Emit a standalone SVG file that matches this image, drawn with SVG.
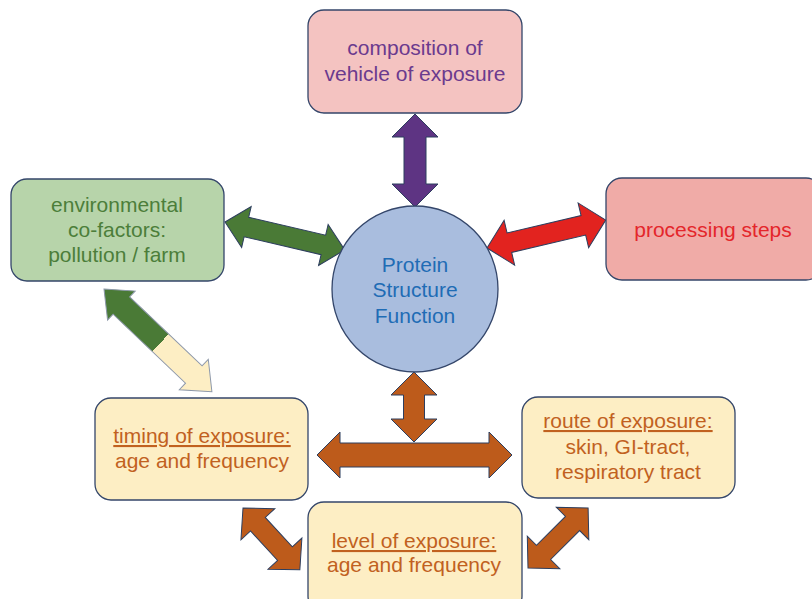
<svg xmlns="http://www.w3.org/2000/svg" width="812" height="599" viewBox="0 0 812 599">
  <style>
    .box { stroke: #34466a; stroke-width: 1.3; }
    .arr { stroke: #2d3e5e; stroke-width: 1; stroke-linejoin: miter; }
    text { font-family: "Liberation Sans", Arial, sans-serif; font-size: 21px; text-anchor: middle; }
    .u { text-decoration: underline; }
  </style>
  <defs>
    <linearGradient id="gc" gradientUnits="userSpaceOnUse" x1="0" y1="0" x2="149" y2="0">
      <stop offset="0.523" stop-color="#4a7a36"/>
      <stop offset="0.523" stop-color="#fdeec4"/>
    </linearGradient>
  </defs>
  <rect width="812" height="599" fill="#ffffff"/>

  <g id="connectors">
    <!-- purple vertical: L=93 -->
    <path class="arr" fill="#5e3483" transform="translate(415,114) rotate(90)" d="M0,0 L23,-23 L23,-11 L70,-11 L70,-23 L93,0 L70,23 L70,11 L23,11 L23,23 Z"/>
    <!-- green: L=123 -->
    <path class="arr" fill="#4a7a36" transform="translate(225,222) rotate(13.13)" d="M0,0 L22,-21 L22,-10 L101,-10 L101,-21 L123,0 L101,21 L101,10 L22,10 L22,21 Z"/>
    <!-- red: L=122 -->
    <path class="arr" fill="#e2231f" transform="translate(487,248) rotate(-13.24)" d="M0,0 L23,-23 L23,-10 L99,-10 L99,-23 L122,0 L99,23 L99,10 L23,10 L23,23 Z"/>
    <!-- green/cream diagonal: L=149 -->
    <path fill="url(#gc)" stroke="#8d98aa" stroke-width="1" transform="translate(104,289) rotate(43.6)" d="M0,0 L24,-20 L24,-12 L124,-12 L124,-21 L149,0 L124,21 L124,12 L24,12 L24,20 Z"/>
    <!-- brown vertical: L=70 -->
    <path class="arr" fill="#bd5b1b" transform="translate(414,372) rotate(90)" d="M0,0 L23,-23 L23,-10.5 L47,-10.5 L47,-23 L70,0 L47,23 L47,10.5 L23,10.5 L23,23 Z"/>
    <!-- brown horizontal: L=195 -->
    <path class="arr" fill="#bd5b1b" transform="translate(317,455)" d="M0,0 L23,-23 L23,-12 L172,-12 L172,-23 L195,0 L172,23 L172,12 L23,12 L23,23 Z"/>
    <!-- brown left diagonal: L=84 -->
    <path class="arr" fill="#bd5b1b" transform="translate(243,508) rotate(47.4)" d="M0,0 L22,-23 L22,-10 L62,-10 L62,-23 L84,0 L62,23 L62,10 L22,10 L22,23 Z"/>
    <!-- brown right diagonal: L=85 -->
    <path class="arr" fill="#bd5b1b" transform="translate(528,568) rotate(-45)" d="M0,0 L22,-23 L22,-10 L63,-10 L63,-23 L85,0 L63,23 L63,10 L22,10 L22,23 Z"/>
  </g>

  <g id="composition">
    <rect class="box" x="308" y="10" width="214" height="103" rx="16" fill="#f4c3c1"/>
    <text x="415" y="55" fill="#6b3a8e">composition of</text>
    <text x="415" y="81" fill="#6b3a8e">vehicle of exposure</text>
  </g>

  <g id="environmental">
    <rect class="box" x="11" y="179" width="213" height="102" rx="16" fill="#b7d4aa"/>
    <text x="117" y="212" fill="#4c7e3a">environmental</text>
    <text x="117" y="237" fill="#4c7e3a">co-factors:</text>
    <text x="117" y="262" fill="#4c7e3a">pollution / farm</text>
  </g>

  <g id="processing">
    <rect class="box" x="606" y="178" width="216" height="102" rx="16" fill="#f0aba7"/>
    <text x="713" y="237" fill="#e4262b">processing steps</text>
  </g>

  <g id="protein">
    <circle cx="415" cy="289" r="83" fill="#a9bdde" stroke="#34466a" stroke-width="1.3"/>
    <text x="415" y="272" fill="#1f6cb5">Protein</text>
    <text x="415" y="297" fill="#1f6cb5">Structure</text>
    <text x="415" y="323" fill="#1f6cb5">Function</text>
  </g>

  <g id="timing">
    <rect class="box" x="95" y="398" width="213" height="102" rx="16" fill="#fdeec4"/>
    <text x="202" y="443" fill="#c1611f" class="u">timing of exposure:</text>
    <text x="202" y="468" fill="#c1611f">age and frequency</text>
  </g>

  <g id="route">
    <rect class="box" x="522" y="397" width="213" height="101" rx="16" fill="#fdeec4"/>
    <text x="628" y="428" fill="#c1611f" class="u">route of exposure:</text>
    <text x="628" y="454" fill="#c1611f">skin, GI-tract,</text>
    <text x="628" y="479" fill="#c1611f">respiratory tract</text>
  </g>

  <g id="level">
    <rect class="box" x="308" y="502" width="214" height="110" rx="16" fill="#fdeec4"/>
    <text x="414" y="548" fill="#c1611f" class="u">level of exposure:</text>
    <text x="414" y="572" fill="#c1611f">age and frequency</text>
  </g>
</svg>
